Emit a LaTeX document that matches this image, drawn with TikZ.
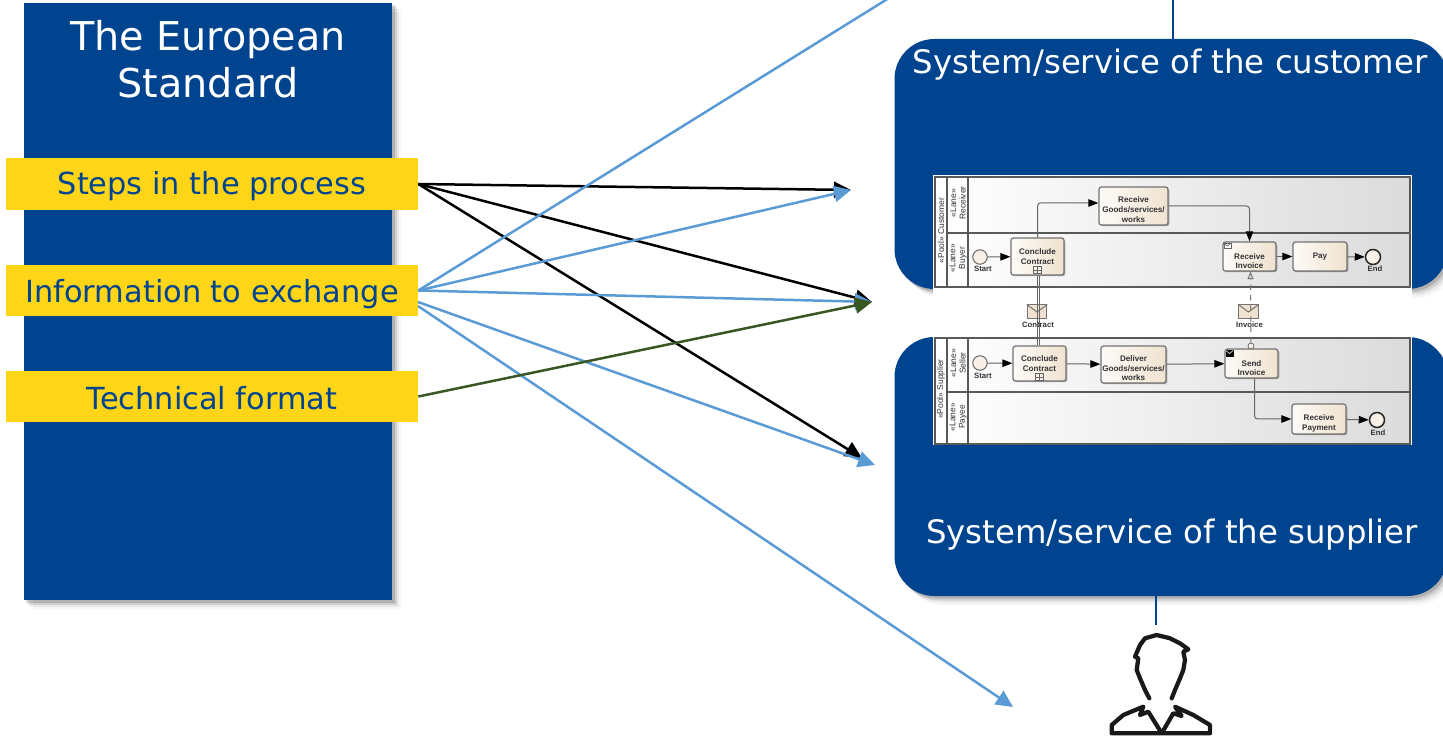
\documentclass[tikz,border=0pt]{standalone}
\usepackage{fontspec}
\setmainfont{DejaVu Sans}
\newfontfamily\bpmnfont{Liberation Sans}
\usetikzlibrary{arrows.meta,shadows}
\definecolor{eublue}{HTML}{00438F}
\definecolor{euyellow}{HTML}{FFD617}
\definecolor{lightarrow}{HTML}{5B9BD5}
\definecolor{darkgreen}{HTML}{385723}
\definecolor{taskfill}{HTML}{F0E2CF}
\def\taskdrop{\rule{0pt}{8.5pt}}
\def\taskdropsmall{\rule{0pt}{7.5pt}}
\tikzset{
	softshadow/.style={general shadow={shadow xshift=1.8mm, shadow yshift=-1.8mm, fill=black, opacity=0.03},
		general shadow={shadow xshift=1.3mm, shadow yshift=-1.3mm, fill=black, opacity=0.06},
		general shadow={shadow xshift=0.9mm, shadow yshift=-0.9mm, fill=black, opacity=0.1},
		general shadow={shadow xshift=0.5mm, shadow yshift=-0.5mm, fill=black, opacity=0.15}},
	bluebox/.style={fill=eublue, inner sep=0pt, softshadow},
	yellowbox/.style={fill=euyellow, text=eublue, inner sep=0pt, minimum width=82.4mm, font=\fontsize{17.3}{20}\selectfont},
	bigarrow/.style={-{Triangle[length=3.4mm,width=3.2mm]}, line width=0.5mm},
	lane/.style={draw=black!65, line width=0.25mm, inner sep=0pt},
	laneshade/.style={left color=white, middle color=black!3, right color=black!14},
	lanelabel/.style={rotate=90, font=\bpmnfont\fontsize{4.8}{5.4}\selectfont, text=black!80, align=center, inner sep=0pt},
	taskbox/.style={draw=black!55, line width=0.25mm, rounded corners=0.5mm, left color=white!85!taskfill, right color=taskfill,
		align=center, inner sep=0pt, font=\bpmnfont\bfseries\fontsize{4.6}{5.5}\selectfont, text=black!80,
		general shadow={shadow xshift=0.25mm, shadow yshift=-0.25mm, fill=black, opacity=0.3}},
	bpmnevent/.style={circle, draw=black!60, fill=taskfill!50, line width=0.2mm, inner sep=0pt, minimum size=2.9mm},
	bpmnlabel/.style={inner sep=0pt, font=\bpmnfont\bfseries\fontsize{4.4}{5}\selectfont, text=black!80},
	envelope/.style={draw=black!55, fill=taskfill, line width=0.2mm, inner sep=0pt, minimum width=3.9mm, minimum height=2.8mm},
	flowline/.style={draw=black!60, line width=0.2mm, rounded corners=0.6mm, -{Triangle[length=2mm,width=1.5mm,color=black]}},
}

\begin{document}
\begin{tikzpicture}[x=0.2mm, y=-0.2mm]
	%%%%% START %%%%%
	\useasboundingbox (0, 0) rectangle (1443, 736);
	\clip (0, 0) rectangle (1443, 736);

	% left panel
	\node[bluebox, minimum width=73.6mm, minimum height=119.4mm] (standard) at (208, 301.5) {};
	\node[text=white, align=center, inner sep=0pt, font=\fontsize{22.6}{26.6}\selectfont] (standardtitle) at (208, 59) {The European\\Standard};
	\node[yellowbox, minimum height=10.4mm] (steps) at (212, 184) {\rule{0pt}{16pt}Steps in the process};
	\node[yellowbox, minimum height=10.2mm] (information) at (212, 290.5) {\rule{0pt}{17pt}Information to exchange};
	\node[yellowbox, minimum height=10.2mm] (technical) at (212, 396.5) {\rule{0pt}{15pt}Technical format};

	% systems
	\node[bluebox, rounded corners=8mm, minimum width=110.6mm, minimum height=50mm] (customer) at (1171, 164) {};
	\node[bluebox, rounded corners=8mm, minimum width=110.6mm, minimum height=51.8mm] (supplier) at (1171, 466.5) {};
	\node[text=white, inner sep=0pt, font=\fontsize{18.4}{22}\selectfont] (customertext) at (1170, 65) {System/service of the customer};
	\node[text=white, inner sep=0pt, font=\fontsize{18.4}{22}\selectfont] (suppliertext) at (1172, 535) {System/service of the supplier};

	\coordinate (toplink) at (1173, -2);
	\coordinate (bottomlink) at (1156, 625);
	\draw[eublue, line width=0.4mm] (toplink) -- (toplink |- customer.north);
	\draw[eublue, line width=0.4mm] (bottomlink |- supplier.south) -- (bottomlink);

	% process picture
	\node[fill=white, inner sep=0pt, minimum width=95.8mm, minimum height=54mm] (processback) at (1172.5, 310) {};

	\node[lane, laneshade, minimum width=95mm, minimum height=22mm] (customerpool) at (1172.5, 232) {};
	\node[lane, laneshade, minimum width=95mm, minimum height=21.2mm] (supplierpool) at (1172.5, 391) {};
	\draw[lane] (947, 177) -- (947, 287);
	\draw[lane] (968, 177) -- (968, 287);
	\draw[lane] (947, 233) -- (1410, 233);
	\draw[lane] (947, 338) -- (947, 444);
	\draw[lane] (968, 338) -- (968, 444);
	\draw[lane] (947, 392) -- (1410, 392);

	\node[lanelabel] (poolcustomer) at (941, 230.5) {«Pool» Customer};
	\node[lanelabel] (lanereceiver) at (958, 203) {«Lane»\\Receiver};
	\node[lanelabel] (lanebuyer) at (958, 258) {«Lane»\\Buyer};
	\node[lanelabel] (poolsupplier) at (941, 389) {«Pool» Supplier};
	\node[lanelabel] (laneseller) at (958, 363) {«Lane»\\Seller};
	\node[lanelabel] (lanepayee) at (958, 417) {«Lane»\\Payee};

	% customer lanes
	\node[bpmnevent] (startbuyer) at (980, 257) {};
	\node[bpmnlabel] (startbuyertext) at (983, 269) {Start};
	\node[taskbox, minimum width=10.6mm, minimum height=7.4mm] (concludebuyer) at (1037.5, 256.5) {Conclude\\Contract};
	\node[taskbox, minimum width=13.8mm, minimum height=7.6mm] (receivegoods) at (1133.5, 206) {\taskdropsmall Receive\\Goods/services/\\works};
	\node[taskbox, minimum width=10.6mm, minimum height=5.8mm] (receiveinvoice) at (1249.5, 256.5) {\taskdrop Receive\\Invoice};
	\node[taskbox, minimum width=10.8mm, minimum height=5.8mm] (pay) at (1320, 256.5) {Pay};
	\node[bpmnevent, minimum size=3mm, line width=0.3mm, draw=black!85] (endbuyer) at (1373, 257) {};
	\node[bpmnlabel] (endbuyertext) at (1375, 269) {End};

	% supplier lanes
	\node[bpmnevent] (startseller) at (980, 363) {};
	\node[bpmnlabel] (startsellertext) at (983, 376) {Start};
	\node[taskbox, minimum width=10.6mm, minimum height=7mm] (concludeseller) at (1039.5, 363.5) {Conclude\\Contract};
	\node[taskbox, minimum width=13mm, minimum height=7.4mm] (delivergoods) at (1133.5, 364.5) {\taskdropsmall Deliver\\Goods/services/\\works};
	\node[taskbox, minimum width=10.6mm, minimum height=5.8mm] (sendinvoice) at (1251.5, 363.5) {\taskdrop Send\\Invoice};
	\node[taskbox, minimum width=10.8mm, minimum height=6mm] (receivepayment) at (1319, 419) {\taskdrop Receive\\Payment};
	\node[bpmnevent, minimum size=3mm, line width=0.3mm, draw=black!85] (endpayee) at (1377, 420) {};
	\node[bpmnlabel] (endpayeetext) at (1378, 433) {End};

	% messages
	\node[envelope] (contractmsg) at (1037, 312) {};
	\draw[black!55, line width=0.2mm] (contractmsg.north west) -- (contractmsg.center) -- (contractmsg.north east);
	\node[bpmnlabel] (contracttext) at (1038, 325) {Contract};
	\node[envelope] (invoicemsg) at (1248.5, 312) {};
	\draw[black!55, line width=0.2mm] (invoicemsg.north west) -- (invoicemsg.center) -- (invoicemsg.north east);
	\node[bpmnlabel] (invoicetext) at (1249.5, 325) {Invoice};
	\node[circle, draw=black!60, fill=taskfill!50, line width=0.15mm, inner sep=0pt, minimum size=1.2mm] (invoicestart) at (1251, 346) {};

	\draw[flowline] (startbuyer) -- (concludebuyer);
	\draw[flowline] (concludebuyer.north) |- ([yshift=0.6mm]receivegoods.west);
	\draw[flowline] (receivegoods.east) -| (receiveinvoice.north);
	\draw[flowline] (receiveinvoice) -- (pay);
	\draw[flowline] (pay) -- (endbuyer);
	\draw[flowline] (startseller) -- (concludeseller);
	\draw[flowline] (concludeseller) -- (delivergoods);
	\draw[flowline] (delivergoods) -- (sendinvoice);
	\draw[flowline] ([xshift=0.6mm]sendinvoice.south) |- (receivepayment.west);
	\draw[flowline] (receivepayment) -- (endpayee);

	\draw[black!60, line width=0.2mm] ([xshift=-0.1mm]concludebuyer.south) -- ([xshift=-0.5mm]concludeseller.north);
	\draw[black!60, line width=0.2mm] ([xshift=0.4mm]concludebuyer.south) -- (concludeseller.north);
	\draw[black!55, line width=0.2mm, dashed, -{Triangle[open,length=1.5mm,width=1.2mm]}] (invoicestart) -- ([xshift=0.2mm]receiveinvoice.south);

	% sub process marks
	\node[draw=black!60, fill=white!60!taskfill, line width=0.15mm, inner sep=0pt, minimum size=1.5mm] (plusbuyer) at (1037.5, 270) {};
	\draw[black!60, line width=0.12mm] (plusbuyer.west) -- (plusbuyer.east) (plusbuyer.north) -- (plusbuyer.south);
	\node[draw=black!60, fill=white!60!taskfill, line width=0.15mm, inner sep=0pt, minimum size=1.5mm] (plusseller) at (1039.5, 377) {};
	\draw[black!60, line width=0.12mm] (plusseller.west) -- (plusseller.east) (plusseller.north) -- (plusseller.south);
	\node[draw=black!60, fill=white, line width=0.12mm, inner sep=0pt, minimum width=1.4mm, minimum height=1.1mm] (receivemark) at (1227.5, 246) {};
	\draw[black!60, line width=0.12mm] (receivemark.north west) -- (receivemark.center) -- (receivemark.north east);
	\node[draw=black, fill=black, line width=0.12mm, inner sep=0pt, minimum width=1.4mm, minimum height=1.1mm] (sendmark) at (1229.5, 353.5) {};
	\draw[white, line width=0.12mm] (sendmark.north west) -- (sendmark.center) -- (sendmark.north east);

	% arrows
	\coordinate (tipgoods) at (851, 190);
	\coordinate (tipblack) at (872, 302);
	\coordinate (tiplower) at (862, 458);
	\coordinate (tiplowerblue) at (875, 465);
	\coordinate (tipperson) at (1013, 707);
	\coordinate (tipoffpage) at (889, -2);
	\coordinate (infolowa) at (418, 302);
	\coordinate (infolowb) at (418, 306);

	\draw[bigarrow, black] (steps.east) -- (tipgoods);
	\draw[bigarrow, black] (steps.east) -- (tipblack);
	\draw[bigarrow, black] (steps.east) -- (tiplower);

	\draw[line width=0.5mm, lightarrow] (information.east) -- (tipoffpage);
	\draw[bigarrow, lightarrow] (information.east) -- (tipgoods);
	\draw[bigarrow, lightarrow] (information.east) -- (tipblack);
	\draw[bigarrow, lightarrow] (infolowa) -- (tiplowerblue);
	\draw[bigarrow, lightarrow] (infolowb) -- (tipperson);

	\draw[bigarrow, darkgreen] (technical.east) -- (tipblack);

	% person
	\draw[line width=0.85mm, black!90, line join=round, line cap=round]
		(1149.3, 698.3) -- (1145, 690) -- (1140, 678.3) -- (1136.7, 670) -- (1138.3, 658.3) -- (1135, 656.7) -- (1140, 645) -- (1145, 638.3)
		-- (1156.7, 635) -- (1170, 638.3) -- (1180, 643.3) -- (1188.3, 649.3) -- (1183.3, 651.7) -- (1185, 660) -- (1183.3, 670) -- (1180, 678.3) -- (1175, 690) -- (1171.7, 698.3);
	\draw[line width=0.85mm, black!90, line join=round, line cap=round]
		(1111.7, 733.3) -- (1111.7, 725) -- (1123.3, 715) -- (1143.3, 706.7) -- (1140, 715) -- (1148.3, 711.7) -- (1161.7, 733.3)
		-- (1173.3, 713.3) -- (1181.7, 716) -- (1175, 706.7) -- (1193.3, 715) -- (1210, 725) -- (1210, 733.3) -- cycle;

	%%%%% END %%%%%
\end{tikzpicture}
\end{document}
